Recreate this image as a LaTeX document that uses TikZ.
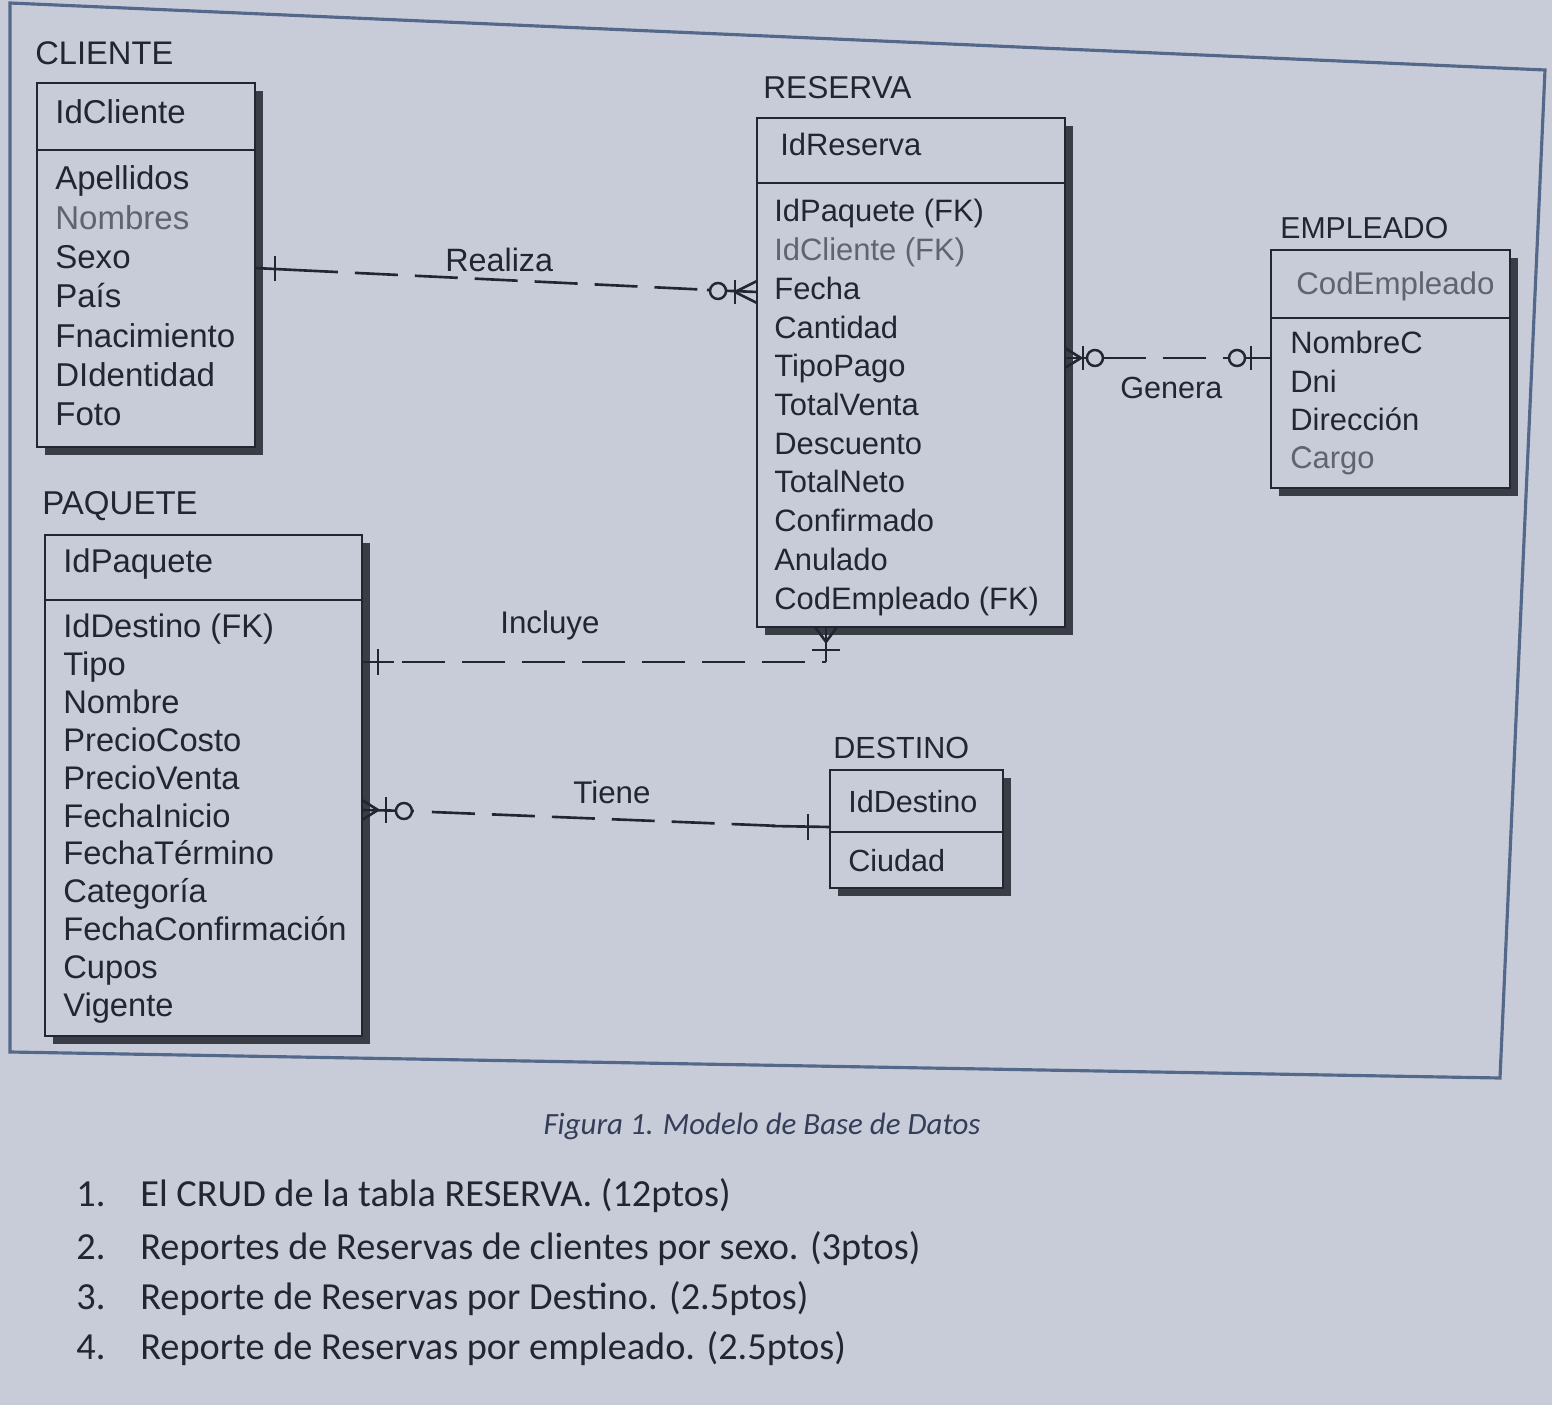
\documentclass[tikz,border=0pt]{standalone}
\usepackage{fontspec}
\setmainfont{Liberation Sans}
\newfontfamily\calfont{Carlito}
\usetikzlibrary{calc}
\definecolor{bgcol}{RGB}{200,204,216}
\definecolor{ink}{RGB}{34,38,48}
\definecolor{faded}{RGB}{95,100,114}
\definecolor{shadowcol}{RGB}{58,61,70}
\definecolor{framecol}{RGB}{84,104,138}
\definecolor{capcol}{RGB}{52,62,88}
\begin{document}
\begin{tikzpicture}[x=0.02cm,y=-0.02cm,
  box/.style={draw=ink,fill=bgcol,line width=1.5pt,inner sep=0pt,outer sep=0pt,anchor=north west},
  sep/.style={draw=ink,line width=1.5pt},
  shad/.style={fill=shadowcol},
  attr/.style={anchor=base west,inner sep=0pt,text=ink,font=\fontsize{#1pt}{#1pt}\selectfont},
  rel/.style={draw=ink,line width=1.5pt},
  dsh/.style={rel,dash pattern=on 0.86cm off 0.34cm},
  oring/.style={draw=ink,line width=1.4pt,fill=bgcol},
  capt/.style={anchor=base,inner sep=0pt,text=capcol,font=\calfont\itshape\fontsize{17.6pt}{18pt}\selectfont},
  item/.style={anchor=base west,inner sep=0pt,text=ink,font=\calfont\fontsize{21.8pt}{22pt}\selectfont}]
\useasboundingbox (0,0) rectangle (1552,1405);
\fill[bgcol] (0,0) rectangle (1552,1405);
% frame
\draw[framecol,line width=1.8pt] (10,3) -- (1545,70) -- (1500,1078) -- (10,1052) -- cycle;

% ---------- CLIENTE
\node[attr=18.6] (tcli) at (35,65) {CLIENTE};
\fill[shad] (45,91) rectangle (263,455);
\node[box,minimum width=4.36cm,minimum height=7.28cm] (cliente) at (37,83) {};
\draw[sep] (37,150) -- (255,150);
\node[attr=18.8] (hcli) at (55,124) {IdCliente};
\foreach \t [count=\i] in {Apellidos,Nombres,Sexo,País,Fnacimiento,DIdentidad,Foto}
  \node[attr=18.8] (c\i) at (55,{190+39.3*(\i-1)}) {\t};
\node[attr=18.8,text=faded,fill=bgcol] at (c2.base west) {Nombres};

% ---------- RESERVA
\node[attr=18] (tres) at (763,99) {RESERVA};
\fill[shad] (765,126) rectangle (1073,635);
\node[box,minimum width=6.16cm,minimum height=10.18cm] (reserva) at (757,118) {};
\draw[sep] (757,183) -- (1066,183);
\node[attr=17.6] (hres) at (780,156) {IdReserva};
\foreach \t [count=\i] in {IdPaquete (FK),IdCliente (FK),Fecha,Cantidad,TipoPago,TotalVenta,Descuento,TotalNeto,Confirmado,Anulado,CodEmpleado (FK)}
  \node[attr=17.6] (r\i) at (774,{222+38.7*(\i-1)}) {\t};
\node[attr=17.6,text=faded,fill=bgcol] at (r2.base west) {IdCliente (FK)};

% ---------- EMPLEADO
\node[attr=17.2] (temp) at (1280,239) {EMPLEADO};
\fill[shad] (1279,258) rectangle (1518,496);
\node[box,minimum width=4.78cm,minimum height=4.76cm] (empleado) at (1271,250) {};
\draw[sep] (1271,318) -- (1510,318);
\node[attr=17.8,text=faded] (hemp) at (1296,295) {CodEmpleado};
\foreach \t [count=\i] in {NombreC,Dni,Dirección,Cargo}
  \node[attr=17.6] (e\i) at (1290,{354+38.3*(\i-1)}) {\t};
\node[attr=17.6,text=faded,fill=bgcol] at (e4.base west) {Cargo};

% ---------- PAQUETE
\node[attr=18.8] (tpaq) at (42,515) {PAQUETE};
\fill[shad] (53,543) rectangle (370,1044);
\node[box,minimum width=6.34cm,minimum height=10.02cm] (paquete) at (45,535) {};
\draw[sep] (45,600) -- (362,600);
\node[attr=18.7] (hpaq) at (63,573) {IdPaquete};
\foreach \t [count=\i] in {IdDestino (FK),Tipo,Nombre,PrecioCosto,PrecioVenta,FechaInicio,FechaTérmino,Categoría,FechaConfirmación,Cupos,Vigente}
  \node[attr=18.6] (p\i) at (63,{638+37.8*(\i-1)}) {\t};

% ---------- DESTINO
\node[attr=17.4] (tdes) at (833,758) {DESTINO};
\fill[shad] (838,778) rectangle (1011,896);
\node[box,minimum width=3.46cm,minimum height=2.36cm] (destino) at (830,770) {};
\draw[sep] (830,832) -- (1003,832);
\node[attr=17.4] (hdes) at (848,812) {IdDestino};
\node[attr=17.4] (d1) at (848,871) {Ciudad};

% ---------- helper coordinates
\coordinate (y268) at (0,268);
\coordinate (y292) at (0,292);
\coordinate (y358) at (0,358);
\coordinate (y662) at (0,662);
\coordinate (x826) at (826,0);
\coordinate (y810) at (0,810);
\coordinate (y827) at (0,827);

% ---------- Realiza (CLIENTE 1 -- RESERVA 0..N)
\coordinate (ra) at (cliente.east |- y268);
\coordinate (rb) at (reserva.west |- y292);
\draw[dsh] ($(ra)+(40,2)$) -- ($(rb)+(-46,-2)$);
\draw[rel] (ra) -- ($(ra)+(40,2)$);
\draw[rel] ($(rb)+(-50,-2)$) -- (rb);
\draw[rel] ($(ra)+(20,-12)$) -- ($(ra)+(20,13)$);
\draw[rel] ($(rb)+(-22,-12)$) -- ($(rb)+(-22,12)$);
\draw[rel] ($(rb)+(-22,0)$) -- ($(rb)+(0,-11)$);
\draw[rel] ($(rb)+(-22,0)$) -- ($(rb)+(0,11)$);
\draw[oring] ($(rb)+(-39,-1)$) circle[radius=8];
\node[attr=18.4] (lrea) at (445,272) {Realiza};

% ---------- Genera (RESERVA 0..N -- EMPLEADO 0..1)
\coordinate (ga) at (reserva.east |- y358);
\coordinate (gb) at (empleado.west |- y358);
\draw[dsh] ($(ga)+(38,0)$) -- ($(gb)+(-42,0)$);
\draw[rel] (ga) -- ($(ga)+(76,0)$);
\draw[rel] ($(gb)+(-44,0)$) -- (gb);
\draw[rel] ($(ga)+(16,0)$) -- ($(ga)+(0,-10)$);
\draw[rel] ($(ga)+(16,0)$) -- ($(ga)+(0,10)$);
\draw[rel] ($(ga)+(18,-12)$) -- ($(ga)+(18,12)$);
\draw[oring] ($(ga)+(30,0)$) circle[radius=8];
\draw[rel] ($(gb)+(-20,-12)$) -- ($(gb)+(-20,12)$);
\draw[oring] ($(gb)+(-34,0)$) circle[radius=8];
\node[attr=17.4] (lgen) at (1120,399) {Genera};

% ---------- Incluye (PAQUETE 1 -- RESERVA 1..N)
\coordinate (ia) at (paquete.east |- y662);
\coordinate (ib) at (reserva.south -| x826);
\draw[dsh] ($(ia)+(40,0)$) -- (ia -| ib);
\draw[rel] (ia) -- ($(ia)+(32,0)$);
\draw[rel] (ia -| ib) -- (ib);
\draw[rel] ($(ia)+(16,-13)$) -- ($(ia)+(16,13)$);
\draw[rel] ($(ib)+(0,15)$) -- ($(ib)+(-11,0)$);
\draw[rel] ($(ib)+(0,15)$) -- ($(ib)+(11,0)$);
\draw[rel] ($(ib)+(-14,23)$) -- ($(ib)+(14,23)$);
\node[attr=17.8] (linc) at (500,633) {Incluye};

% ---------- Tiene (PAQUETE 0..N -- DESTINO 1)
\coordinate (ta) at (paquete.east |- y810);
\coordinate (tb) at (destino.west |- y827);
\draw[dsh] ($(ta)+(70,2)$) -- ($(tb)+(-50,-1)$);
\draw[rel] (ta) -- ($(ta)+(52,1)$);
\draw[rel] ($(tb)+(-58,-1)$) -- (tb);
\draw[rel] ($(ta)+(16,0)$) -- ($(ta)+(0,-10)$);
\draw[rel] ($(ta)+(16,0)$) -- ($(ta)+(0,10)$);
\draw[rel] ($(ta)+(24,-13)$) -- ($(ta)+(24,13)$);
\draw[oring] ($(ta)+(42,1)$) circle[radius=8];
\draw[rel] ($(tb)+(-22,-13)$) -- ($(tb)+(-22,13)$);
\node[attr=17.8] (ltie) at (573,803) {Tiene};

% ---------- caption and list
\node[capt] (cap) at (762,1134) {Figura 1. Modelo de Base de Datos};
\node[item] (n1) at (76,1206) {1.};
\node[item] (i1) at (140,1206) {El CRUD de la tabla RESERVA. (12ptos)};
\node[item] (n2) at (76,1259) {2.};
\node[item] (i2) at (140,1259) {Reportes de Reservas de clientes por sexo. (3ptos)};
\node[item] (n3) at (76,1309) {3.};
\node[item] (i3) at (140,1309) {Reporte de Reservas por Destino. (2.5ptos)};
\node[item] (n4) at (76,1359) {4.};
\node[item] (i4) at (140,1359) {Reporte de Reservas por empleado. (2.5ptos)};
\end{tikzpicture}
\end{document}
